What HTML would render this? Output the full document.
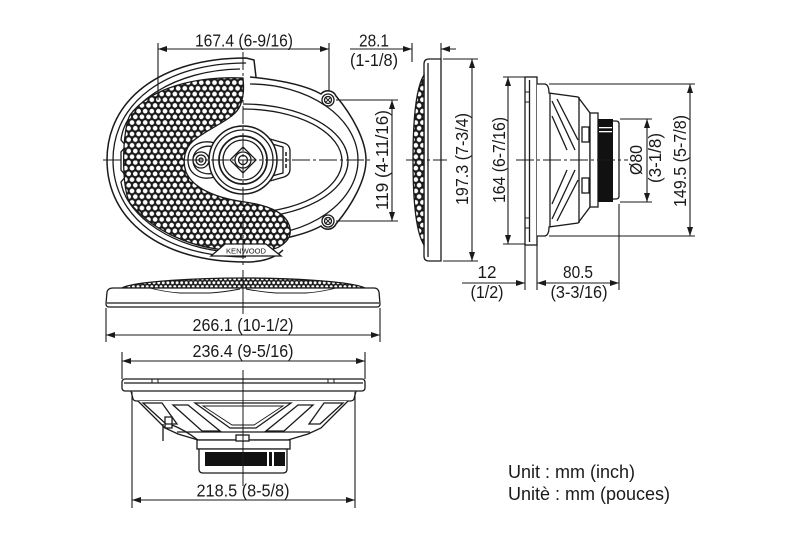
<!DOCTYPE html>
<html><head><meta charset="utf-8"><style>
html,body{margin:0;padding:0;background:#fff;}
svg{display:block;}
text{font-family:"Liberation Sans",sans-serif;fill:#1a1a1a;}
</style></head><body>
<svg width="800" height="533" viewBox="0 0 800 533" xmlns="http://www.w3.org/2000/svg">
<defs>
<pattern id="dots" width="6.6" height="11.4" patternUnits="userSpaceOnUse">
<rect width="6.6" height="11.4" fill="#1a1a1a"/>
<circle cx="3.3" cy="2.85" r="2.35" fill="#fff"/>
<circle cx="0" cy="8.55" r="2.35" fill="#fff"/>
<circle cx="6.6" cy="8.55" r="2.35" fill="#fff"/>
</pattern>
<pattern id="dots2" width="4.6" height="7.8" patternUnits="userSpaceOnUse">
<rect width="4.6" height="7.8" fill="#1a1a1a"/>
<circle cx="2.3" cy="1.95" r="1.5" fill="#fff"/>
<circle cx="0" cy="5.85" r="1.5" fill="#fff"/>
<circle cx="4.6" cy="5.85" r="1.5" fill="#fff"/>
</pattern>
</defs>

<!-- ================= FRONT VIEW ================= -->
<g fill="none" stroke="#1a1a1a" stroke-width="1.3">
<path d="M250,77 C 280,80 305,85 321,94 A 9 9 0 0 1 336,96 C 352,115 366,140 366,160 C 366,180 352,205 336,224 A 9 9 0 0 1 321,226 C 305,235 280,240 250,244" stroke-width="1.5"/>
<path d="M250,84 A 108 76 0 0 1 250,236"/>
<path d="M243,104 A 105 57 0 0 1 243,218"/>
<path d="M243,109 A 99 52 0 0 1 243,213"/>
<circle cx="328" cy="100" r="6" fill="#fff"/>
<circle cx="328" cy="100" r="3.5"/>
<circle cx="328" cy="221" r="6" fill="#fff"/>
<circle cx="328" cy="221" r="3.5"/>
<path d="M325,97 L331,103 M331,97 L325,103 M325,218 L331,224 M331,218 L325,224" stroke-width="0.9"/>

<path d="M256,77 L254,60 L246,58 C 160,58 107,100 107,160 C 107,220 160,262 246,262 C 262,262 275,258 283,250" stroke-width="1.5"/>
<path d="M246,63 C 165,63 113,103 113,160 C 113,217 165,257 246,257"/>
<path d="M240,69 C 175,70 125,103 121,140 L126,146 L121,152 L121,170 L126,176 L121,182 C 126,216 175,250 232,252"/>

<path d="M243,78 C 195,76 150,88 130,115 C 122,130 121,188 130,203 C 150,228 185,246 225,250 L 270,250 C 284,247 292,238 290,228 C 287,214 272,206 245,202 C 215,198 193,188 186,172 C 182,160 185,148 193,141 C 207,129 232,120 239,108 C 244,98 244,88 243,78 Z" fill="url(#dots)" stroke-width="1.3"/>

<path d="M225,244 L266,244 L281,256 L211,256 Z" fill="#fff"/>

<path d="M215,143 C 200,139 188,146 188,160 C 188,174 200,181 215,177" fill="#fff"/>
<path d="M215,147 C 203,144 193,150 193,160 C 193,170 203,176 215,173"/>
<path d="M270,139 L284,143 Q290,145 290,151 L290,169 Q290,175 284,177 L270,181" fill="#fff"/>
<path d="M272,144 L283,147 L283,173 L272,176"/>
<circle cx="201" cy="160" r="8" fill="#fff"/>
<circle cx="201" cy="160" r="5"/>
<circle cx="201" cy="160" r="2"/>
<circle cx="243" cy="160" r="34" fill="#fff" stroke-width="1.5"/>
<circle cx="243" cy="160" r="30"/>
<circle cx="243" cy="160" r="24" stroke-width="1.7"/>
<circle cx="243" cy="160" r="20"/>
<path d="M243,147 L256,160 L243,173 L230,160 Z"/>
<circle cx="243" cy="160" r="8"/>
<circle cx="243" cy="160" r="4.5"/>
<path d="M286,152 L286,156 M286,158 L286,162 M286,164 L286,168" stroke-width="1.5"/>
</g>
<text x="246" y="253.5" font-size="7" text-anchor="middle" textLength="40" lengthAdjust="spacingAndGlyphs">KENWOOD</text>

<g stroke="#1a1a1a" stroke-width="1" fill="none" stroke-dasharray="18 3 3 3">
<line x1="103" y1="160" x2="371" y2="160"/>
<line x1="243" y1="52" x2="243" y2="268"/>
</g>

<!-- ================= THIN SIDE VIEW ================= -->
<g fill="none" stroke="#1a1a1a" stroke-width="1.3">
<path d="M441,59 L429,59 Q424,59 424,64 L424,256 Q424,261 429,261 L441,261 Z" fill="#fff"/>
<line x1="428" y1="63" x2="428" y2="257"/>
<path d="M424,75 C 417,86 413,115 413,160 C 413,205 417,234 424,245 Z" fill="url(#dots)"/>
</g>
<line x1="406" y1="160" x2="447" y2="160" stroke="#1a1a1a" stroke-width="1" stroke-dasharray="18 3 3 3"/>

<!-- ================= PROFILE VIEW ================= -->
<g fill="none" stroke="#1a1a1a" stroke-width="1.3">
<rect x="525" y="77" width="12" height="168" fill="#fff"/>
<line x1="529.5" y1="80" x2="529.5" y2="242"/>
<path d="M525,92 L529,92 M525,102 L529,102 M525,218 L529,218 M525,228 L529,228" stroke-width="1"/>
<path d="M537,84 L545,84 Q549,85 549,93 L578,97 L590,113 L590,207 L578,223 L549,227 Q549,235 545,236 L537,236" fill="#fff"/>
<line x1="550" y1="93" x2="550" y2="227"/>
<line x1="579" y1="97" x2="579" y2="223"/>
<path d="M552,101 L575,150 M557,99 L578,140 M552,116 L567,150 M552,219 L575,170 M557,221 L578,180 M552,204 L567,170"/>
<rect x="582" y="127" width="7" height="15"/>
<rect x="582" y="178" width="7" height="15"/>
<rect x="590" y="113" width="8" height="94" fill="#fff"/>
<path d="M613,121 L616,121 Q619,121 619,124 L619,196 Q619,199 616,199 L613,199" fill="#fff"/>
</g>
<rect x="598" y="119" width="15" height="83" fill="#111"/>
<rect x="599" y="127" width="13" height="1.3" fill="#fff"/>
<rect x="599" y="131" width="13" height="1.3" fill="#fff"/>
<line x1="516" y1="160" x2="628" y2="160" stroke="#1a1a1a" stroke-width="1" stroke-dasharray="18 3 3 3"/>

<!-- ================= TOP-DOWN (MID) VIEW ================= -->
<g fill="none" stroke="#1a1a1a" stroke-width="1.3">
<path d="M122,288 C 135,281 200,278 243,278 C 286,278 351,281 365,288 Z" fill="url(#dots2)"/>
<path d="M113,288 L374,288 Q378,288 379,292 L380,304 Q380,307 377,307 L109,307 Q106,307 106,304 L107,292 Q108,288 113,288 Z" fill="#fff"/>
<line x1="107" y1="303" x2="379" y2="303"/>
<path d="M150,288 Q165,292 180,293 L210,293 Q225,292 240,289 M246,289 Q261,292 276,293 L306,293 Q321,292 336,288" stroke-width="0.9"/>
</g>
<line x1="243" y1="270" x2="243" y2="314" stroke="#1a1a1a" stroke-width="1"/>

<!-- ================= BOTTOM (SIDE) VIEW ================= -->
<g fill="none" stroke="#1a1a1a" stroke-width="1.3">
<rect x="122" y="379" width="243" height="12" rx="3" fill="#fff"/>
<line x1="124" y1="383" x2="363" y2="383"/>
<path d="M152,379 L152,383 M158,379 L158,383 M328,379 L328,383 M334,379 L334,383" stroke-width="1"/>
<path d="M131,391 L133,399 Q134,401 137,401 L350,401 Q353,401 354,399 L356,391"/>
<path d="M138,401 L165,428 L178,434 L198,440 L288,440 L308,434 L321,428 L348,401" fill="#fff"/>
<line x1="177" y1="432" x2="310" y2="432"/>
<path d="M195,403 L291,403 L256,428 L230,428 Z"/>
<path d="M203,406 L283,406 L254,425 L232,425 Z" stroke-width="0.9"/>
<path d="M173,405 L188,405 L220,431 L202,431 Z"/>
<path d="M313,405 L298,405 L266,431 L284,431 Z"/>
<path d="M143,403 L162,403 L177,424 L166,424 Z"/>
<path d="M343,403 L324,403 L309,424 L320,424 Z"/>
<rect x="197" y="440" width="93" height="9" fill="#fff"/>
<rect x="236" y="435" width="13" height="6" fill="#fff"/>
<path d="M199,449 L287,449 L287,469 Q287,473 283,473 L203,473 Q199,473 199,469 Z" fill="#fff"/>
<path d="M163,424 L163,441 M165,417 L172,417 L172,428 L165,428 Z M172,425 C 180,428 190,434 198,440"/>
</g>
<rect x="205" y="452" width="80" height="14" fill="#111"/>
<rect x="267" y="452" width="2" height="14" fill="#fff"/>
<rect x="272" y="452" width="2" height="14" fill="#fff"/>
<line x1="243" y1="370" x2="243" y2="486" stroke="#1a1a1a" stroke-width="1"/>

<!-- ================= DIMENSION LINES ================= -->
<g stroke="#1a1a1a" stroke-width="1.1" fill="none">
<path d="M158,43 L158,100 M329,43 L329,91"/>
<path d="M412,43 L412,62 M441,43 L441,59"/>
<path d="M336,100 L398,100 M336,221 L398,221"/>
<path d="M443,59 L478,59 M443,261 L478,261"/>
<path d="M503,77 L525,77 M503,244 L525,244"/>
<path d="M549,84 L695,84 M549,236 L695,236"/>
<path d="M620,119 L652,119 M620,202 L652,202"/>
<path d="M525,245 L525,290 M537,237 L537,290 M619,204 L619,290"/>
<path d="M106,308 L106,342 M380,308 L380,342"/>
<path d="M122,352 L122,379 M365,352 L365,379"/>
<path d="M132,392 L132,508 M355,392 L355,508"/>
<path d="M158,49 L329,49"/>
<path d="M350,49 L412,49 M441,49 L456,49"/>
<path d="M392,100 L392,221"/>
<path d="M472,59 L472,261"/>
<path d="M508,77 L508,244"/>
<path d="M647,119 L647,202"/>
<path d="M690,84 L690,236"/>
<path d="M462,283 L525,283 M537,283 L619,283"/>
<path d="M106,335 L380,335"/>
<path d="M122,361 L365,361"/>
<path d="M132,500 L355,500"/>
</g>
<g fill="#1a1a1a">
<polygon points="158,49 167,46 167,52"/><polygon points="329,49 320,46 320,52"/>
<polygon points="412,49 403,46 403,52"/><polygon points="441,49 450,46 450,52"/>
<polygon points="392,100 389,109 395,109"/><polygon points="392,221 389,212 395,212"/>
<polygon points="472,59 469,68 475,68"/><polygon points="472,261 469,252 475,252"/>
<polygon points="508,77 505,86 511,86"/><polygon points="508,244 505,235 511,235"/>
<polygon points="647,119 644,128 650,128"/><polygon points="647,202 644,193 650,193"/>
<polygon points="690,84 687,93 693,93"/><polygon points="690,236 687,227 693,227"/>
<polygon points="525,283 516,280 516,286"/>
<polygon points="537,283 546,280 546,286"/><polygon points="619,283 610,280 610,286"/>
<polygon points="106,335 115,332 115,338"/><polygon points="380,335 371,332 371,338"/>
<polygon points="122,361 131,358 131,364"/><polygon points="365,361 356,358 356,364"/>
<polygon points="132,500 141,497 141,503"/><polygon points="355,500 346,497 346,503"/>
</g>

<!-- ================= TEXT ================= -->
<g font-size="17.5" text-anchor="middle">
<text x="244" y="46.5" textLength="98" lengthAdjust="spacingAndGlyphs">167.4 (6-9/16)</text>
<text x="374" y="46.5" textLength="30" lengthAdjust="spacingAndGlyphs">28.1</text>
<text x="374" y="66" textLength="48" lengthAdjust="spacingAndGlyphs">(1-1/8)</text>
<text transform="translate(388,160) rotate(-90)" textLength="100" lengthAdjust="spacingAndGlyphs">119 (4-11/16)</text>
<text transform="translate(468,159) rotate(-90)" textLength="92" lengthAdjust="spacingAndGlyphs">197.3 (7-3/4)</text>
<text transform="translate(505,160) rotate(-90)" textLength="86" lengthAdjust="spacingAndGlyphs">164 (6-7/16)</text>
<text transform="translate(642,160) rotate(-90)" textLength="30" lengthAdjust="spacingAndGlyphs">Ø80</text>
<text transform="translate(661,158) rotate(-90)" textLength="50" lengthAdjust="spacingAndGlyphs">(3-1/8)</text>
<text transform="translate(686,161) rotate(-90)" textLength="92" lengthAdjust="spacingAndGlyphs">149.5 (5-7/8)</text>
<text x="487" y="278" textLength="19" lengthAdjust="spacingAndGlyphs">12</text>
<text x="487" y="298" textLength="33" lengthAdjust="spacingAndGlyphs">(1/2)</text>
<text x="578" y="278" textLength="30" lengthAdjust="spacingAndGlyphs">80.5</text>
<text x="579" y="298" textLength="57" lengthAdjust="spacingAndGlyphs">(3-3/16)</text>
<text x="243" y="331" textLength="101" lengthAdjust="spacingAndGlyphs">266.1 (10-1/2)</text>
<text x="243" y="357" textLength="101" lengthAdjust="spacingAndGlyphs">236.4 (9-5/16)</text>
<text x="243" y="496.5" textLength="93" lengthAdjust="spacingAndGlyphs">218.5 (8-5/8)</text>
</g>
<g font-size="18">
<text x="508" y="478">Unit : mm (inch)</text>
<text x="508" y="500">Unitè : mm (pouces)</text>
</g>
</svg>
</body></html>
